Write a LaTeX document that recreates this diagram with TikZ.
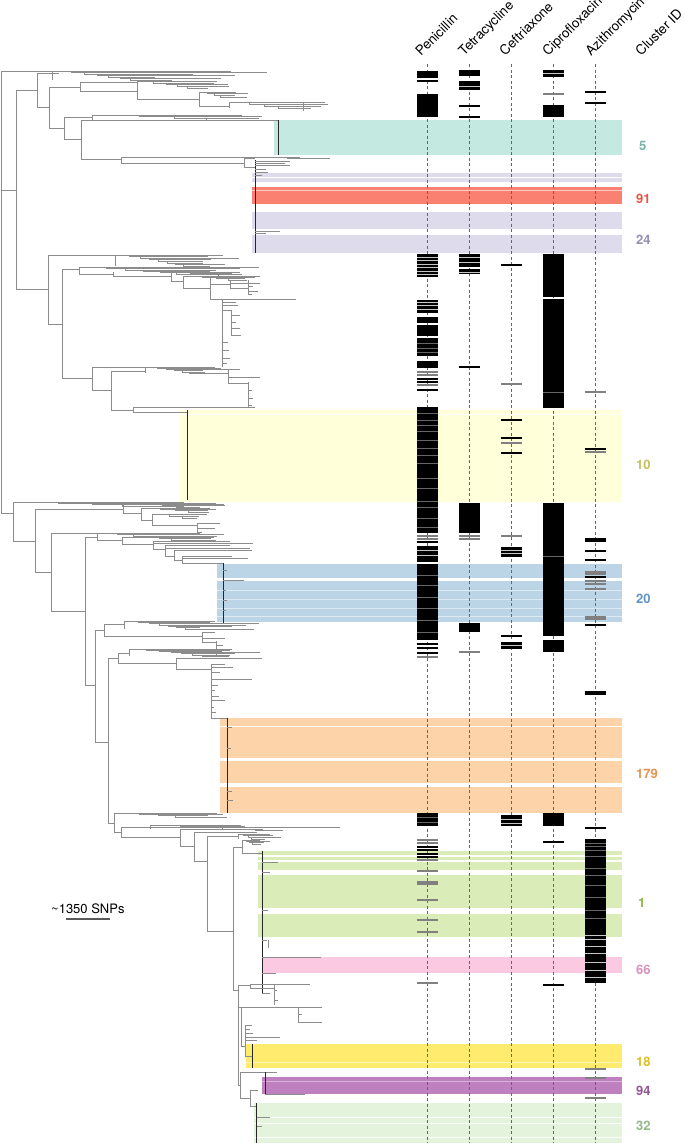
\documentclass[tikz,border=0pt]{standalone}
\usepackage{fontspec}
\setmainfont{TeX Gyre Heros}
\usepackage{xcolor}
\usepackage{tikz}
\usetikzlibrary{positioning}
% band colours
\definecolor{bTeal}{RGB}{196,233,225}
\definecolor{bLav}{RGB}{222,219,236}
\definecolor{bRed}{RGB}{250,128,114}
\definecolor{bPaleY}{RGB}{255,255,217}
\definecolor{bBlue}{RGB}{188,213,230}
\definecolor{bOrange}{RGB}{253,212,170}
\definecolor{bGreen}{RGB}{218,236,184}
\definecolor{bPink}{RGB}{252,201,227}
\definecolor{bYellow}{RGB}{255,236,110}
\definecolor{bPurple}{RGB}{190,128,190}
\definecolor{bLGreen}{RGB}{228,244,220}
% label colours
\definecolor{tTeal}{RGB}{118,178,168}
\definecolor{tRed}{RGB}{228,88,74}
\definecolor{tLav}{RGB}{148,143,180}
\definecolor{tPaleY}{RGB}{198,192,96}
\definecolor{tBlue}{RGB}{98,148,194}
\definecolor{tOrange}{RGB}{228,148,78}
\definecolor{tGreen}{RGB}{138,184,68}
\definecolor{tPink}{RGB}{214,148,190}
\definecolor{tYellow}{RGB}{222,192,36}
\definecolor{tPurple}{RGB}{148,88,148}
\definecolor{tLGreen}{RGB}{148,184,138}

\tikzset{
  treeline/.style={draw=black!45, line width=0.45pt},
  stemline/.style={draw=black!85, line width=0.7pt},
  coldash/.style={draw=black!60, line width=0.6pt, dash pattern=on 3pt off 2.5pt},
  resline/.style={draw=black, line width=1.3pt},
  resgray/.style={draw=black!50, line width=1.1pt},
  resgap/.style={draw=white!55!gray, line width=0.6pt},
  ressub/.style={draw=black!60, line width=0.4pt},
  drug/.style={rotate=45, anchor=base west, inner sep=0pt, font=\fontsize{13.5}{16}\selectfont},
  cid/.style={anchor=west, inner sep=0pt, font=\fontsize{13}{15}\selectfont\bfseries},
}
% resistance marks (column x, y)
\newcommand{\rbar}[3]{\fill[black] ({#1-10.5},#2) rectangle ({#1+10.5},#3);}
\newcommand{\rline}[2]{\draw[resline] ({#1-10.5},#2) -- ({#1+10.5},#2);}
\newcommand{\rgray}[2]{\draw[resgray] ({#1-10.5},#2) -- ({#1+10.5},#2);}
\newcommand{\rgap}[2]{\draw[resgap] ({#1-10.5},#2) -- ({#1+10.5},#2);}
\newcommand{\rsub}[2]{\draw[ressub] ({#1-10.5},#2) -- ({#1+10.5},#2);}
% cluster band
\newcommand{\clband}[4]{\fill[#1] (#2,#3) rectangle (622,#4);}
% dense tips, nested ladder: x0, y0, y1, xmin, xmax, n
\newcommand{\tipbush}[6]{%
  \draw[treeline] (#1,#2) -- (#1,#3);
  \foreach \i in {0,...,#6}{
    \pgfmathsetmacro{\yy}{#2+(#3-#2)*\i/#6}
    \pgfmathsetmacro{\yp}{#2+(#3-#2)*(\i-1)/#6}
    \pgfmathsetmacro{\xs}{#1+(#4-#1)*0.8*(\i/#6)^0.8}
    \pgfmathsetmacro{\xe}{#4+rnd*(#5-#4)}
    \ifnum\i=0
      \draw[treeline] (#1,\yy) -- (\xe,\yy);
    \else
      \draw[treeline] (\xs,\yp) -- (\xs,\yy) -- (\xe,\yy);
    \fi
  }
}

\begin{document}
\begin{tikzpicture}[x=1pt, y=-1pt]
    \useasboundingbox (0,0) rectangle (685,1143);
    \pgfmathsetseed{11}
    \def\pen{427}
    \def\tet{469}
    \def\cef{511}
    \def\cip{553}
    \def\azi{595}
    % Cluster bands
    \clband{bTeal}{274}{120}{155}
    \clband{bLav}{252}{173}{177}
    \clband{bLav}{252}{178}{182}
    \clband{bRed}{252}{187}{204}
    \draw[white!60!bRed, line width=0.8pt] (252,190) -- (622,190);
    \clband{bLav}{252}{212}{229}
    \clband{bLav}{252}{235}{253}
    \clband{bPaleY}{180}{410}{502}
    \draw[white, line width=1pt] (180,414) -- (622,414);
    \clband{bBlue}{217}{564}{578}
    \clband{bBlue}{217}{581}{622}
    \foreach \y in {590,599,608,616} {\draw[white!50!bBlue, line width=0.6pt] (217,\y) -- (622,\y);}
    \clband{bOrange}{220}{718}{758}
    \draw[white, line width=0.8pt] (220,726) -- (622,726);
    \clband{bOrange}{220}{761}{783}
    \clband{bOrange}{220}{787}{813}
    \clband{bGreen}{258}{851}{855}
    \clband{bGreen}{258}{857}{860}
    \clband{bGreen}{258}{862}{870}
    \clband{bGreen}{258}{875}{908}
    \clband{bGreen}{258}{914}{937}
    \clband{bPink}{262}{957}{973}
    \clband{bYellow}{246}{1044}{1068}
    \draw[white!50!bYellow, line width=0.6pt] (246,1062) -- (622,1062);
    \clband{bPurple}{262}{1077}{1094}
    \draw[white!40!bPurple, line width=0.6pt] (262,1081) -- (622,1081);
    \clband{bLGreen}{254}{1103}{1143}
    \foreach \y in {1117,1123,1137} {\draw[white, line width=0.6pt] (254,\y) -- (622,\y);}

    % Tree: root
    \draw[treeline] (1,71) -- (1,513) (1,190) -- (16,190) (1,513) -- (13,513);
    % top clade
    \draw[treeline] (1,71) -- (52,71);
    \tipbush{52}{71}{80}{150}{273}{6}
    \draw[treeline] (16,90) -- (16,289) (16,90) -- (37,90) (37,73) -- (37,107) (37,73) -- (59,73) (37,107) -- (49,107) (49,87) -- (49,128) (49,87) -- (80,87);
    \draw[treeline] (80,82) -- (80,91) (80,82) -- (137,82) (80,91) -- (137,91) (137,84) -- (137,99) (137,99) -- (199,99) (199,92) -- (199,106) (199,106) -- (229,106) (303,103) -- (303,111);
    \tipbush{137}{81}{88}{200}{245}{4}
    \tipbush{199}{92}{97}{225}{258}{3}
    \tipbush{229}{102}{108}{290}{332}{3}
    \draw[treeline] (49,128) -- (64,128) (64,117) -- (64,139) (64,117) -- (92,117) (64,139) -- (81,139) (81,120) -- (81,159);
    \tipbush{92}{115}{120}{235}{272}{3}
    % clade 5
    \draw[treeline] (81,120) -- (278,120);
    \draw[stemline] (278,120) -- (278,155);
    \draw[treeline] (81,159) -- (121,159) (121,157) -- (121,163) (121,157) -- (300,157) (287,158) -- (330,158) (121,163) -- (244,163) (244,158) -- (244,167) (244,158) -- (255,158) (244,167) -- (255,167);
    % clades 91 and 24
    \draw[stemline] (255,160) -- (255,253);
    \draw[treeline] (255,161) -- (290,161) (255,163) -- (285,163) (255,165) -- (290,165) (255,169) -- (266,169) (255,172) -- (268,172) (255,175) -- (262,175) (255,231) -- (280,231) (255,233) -- (266,233);

    % second clade
    \draw[treeline] (16,289) -- (48,289) (48,255) -- (48,324) (48,255) -- (115,255) (48,324) -- (62,324) (62,269) -- (62,378) (62,269) -- (79,269);
    \tipbush{115}{255}{266}{200}{242}{7}
    \tipbush{79}{267}{274}{200}{273}{5}
    \draw[treeline] (79,274) -- (113,274) (113,272) -- (113,276) (113,276) -- (171,276) (171,274) -- (171,281) (171,281) -- (183,281) (183,277) -- (183,288) (183,288) -- (210,288) (210,276) -- (210,299) (210,284) -- (230,284) (230,280) -- (230,288) (230,288) -- (248,288) (248,280) -- (248,294) (210,299) -- (222,299);
    \tipbush{171}{272}{276}{230}{262}{3}
    \tipbush{183}{276}{280}{240}{272}{3}
    \draw[treeline] (230,280) -- (247,280) (230,283) -- (260,283) (248,286) -- (253,286) (248,291) -- (258,291) (248,294) -- (252,294);
    \draw[treeline] (222,299) -- (222,367) (222,299) -- (296,299) (222,302) -- (236,302) (222,305) -- (238,305) (222,310) -- (231,310) (231,310) -- (231,335) (231,315) -- (240,315) (231,322) -- (236,322) (231,328) -- (240,328) (231,335) -- (241,335) (222,342) -- (228,342) (222,350) -- (229,350) (222,358) -- (230,358) (222,363) -- (227,363);
    \draw[treeline] (62,378) -- (92,378) (92,367) -- (92,390) (92,367) -- (145,367) (92,390) -- (111,390) (111,371) -- (111,410) (111,371) -- (145,371);
    \tipbush{145}{367}{373}{200}{245}{5}
    \draw[treeline] (192,373) -- (228,373) (228,369) -- (228,383) (228,377) -- (260,377) (228,383) -- (248,383) (248,382) -- (248,407) (248,390) -- (252,390) (248,398) -- (253,398) (248,405) -- (252,405);
    \draw[treeline] (111,410) -- (133,410) (133,407) -- (133,412) (133,407) -- (255,407) (133,412) -- (187,412);
    % clade 10
    \draw[stemline] (187,410) -- (187,500);

    % bottom half
    \draw[treeline] (13,503) -- (13,541) (13,541) -- (35,541) (35,509) -- (35,572) (35,509) -- (123,509) (123,506) -- (123,513) (123,513) -- (141,513) (141,508) -- (141,520) (141,520) -- (152,520) (152,514) -- (152,525) (152,525) -- (197,525) (197,523) -- (197,532) (197,523) -- (220,523) (197,528) -- (215,528) (197,532) -- (202,532);
    \tipbush{13}{502}{506}{150}{200}{3}
    \tipbush{123}{503}{507}{190}{233}{3}
    \tipbush{141}{508}{512}{200}{234}{3}
    \tipbush{152}{514}{518}{190}{220}{2}
    \draw[treeline] (35,572) -- (51,572) (51,533) -- (51,611) (51,533) -- (97,533) (51,611) -- (85,611) (85,537) -- (85,685) (85,537) -- (97,537);
    \tipbush{97}{533}{540}{190}{233}{5}
    \draw[treeline] (97,540) -- (122,540) (122,537) -- (122,544) (122,544) -- (153,544) (153,541) -- (153,549) (153,549) -- (165,549) (165,545) -- (165,556) (165,556) -- (174,556) (174,550) -- (174,560) (174,560) -- (182,560) (182,556) -- (182,563) (182,563) -- (223,563);
    \draw[treeline] (122,537) -- (214,537) (153,541) -- (230,541) (153,543) -- (253,543) (165,545) -- (230,545) (165,548) -- (250,548) (174,550) -- (252,550) (182,556) -- (232,556) (182,558) -- (248,558);
    % clade 20
    \draw[stemline] (223,563) -- (223,624);
    \draw[treeline] (223,580) -- (244,580) (223,570) -- (227,570) (223,590) -- (226,590) (223,600) -- (227,600) (223,610) -- (226,610);
    \draw[treeline] (85,685) -- (95,685) (95,630) -- (95,742) (95,630) -- (104,630) (104,624) -- (104,636) (104,624) -- (124,624) (104,636) -- (202,636) (202,632) -- (202,642);
    \tipbush{124}{621}{629}{200}{265}{6}
    \draw[treeline] (202,632) -- (215,632) (202,638) -- (225,638) (202,642) -- (216,642) (216,641) -- (216,655) (216,645) -- (223,645) (216,650) -- (222,650) (216,655) -- (220,655);
    \draw[treeline] (95,742) -- (108,742) (108,658) -- (108,823) (108,658) -- (118,658) (118,653) -- (118,663) (118,653) -- (129,653) (118,663) -- (176,663) (176,658) -- (176,669) (176,658) -- (262,658) (176,669) -- (211,669);
    \tipbush{129}{649}{656}{220}{270}{6}
    \draw[treeline] (211,664) -- (211,718) (211,664) -- (225,664) (211,667) -- (233,667) (211,672) -- (220,672) (211,679) -- (252,679) (211,685) -- (218,685) (211,690) -- (215,690) (211,696) -- (219,696) (211,700) -- (225,700) (211,707) -- (214,707) (211,712) -- (216,712) (211,718) -- (227,718);
    % clade 179
    \draw[stemline] (227,718) -- (227,813);
    \draw[treeline] (227,727) -- (232,727) (227,748) -- (231,748) (227,791) -- (232,791) (227,800) -- (233,800);
    \draw[treeline] (108,823) -- (114,823) (114,815) -- (114,832) (114,832) -- (121,832) (121,827) -- (121,837) (121,827) -- (340,827) (121,837) -- (180,837) (180,829) -- (180,846) (180,829) -- (263,829) (255,830) -- (283,830) (180,846) -- (194,846) (194,832) -- (194,861) (194,832) -- (257,832) (194,861) -- (207,861) (207,836) -- (207,931) (207,836) -- (238,836) (207,931) -- (233,931);
    \tipbush{114}{813}{817}{190}{233}{3}
    \tipbush{150}{825}{829}{240}{265}{3}
    \tipbush{238}{834}{839}{255}{287}{3}
    \draw[treeline] (233,847) -- (233,990) (233,847) -- (242,847) (242,840) -- (242,853) (242,853) -- (262,853);
    \tipbush{242}{840}{844}{255}{287}{3}
    % clades 1 and 66
    \draw[stemline] (262,851) -- (262,993);
    \draw[treeline] (262,862) -- (278,862) (262,872) -- (270,872) (262,910) -- (268,910) (262,940) -- (267,940) (268,940) -- (268,948) (262,957) -- (321,957) (262,973) -- (276,973) (262,993) -- (270,993);
    \draw[treeline] (233,990) -- (238,990) (238,985) -- (238,1085) (238,985) -- (250,985) (250,984) -- (250,988) (250,984) -- (310,984) (250,988) -- (274,988) (274,985) -- (274,1005) (274,990) -- (277,990) (274,1000) -- (278,1000) (238,1007) -- (241,1007) (241,1007) -- (241,1046) (241,1007) -- (298,1007) (298,1007) -- (298,1022) (298,1007) -- (322,1007) (298,1014) -- (302,1014) (298,1022) -- (322,1022) (241,1046) -- (245,1046) (245,1025) -- (245,1056) (245,1025) -- (252,1025) (245,1029) -- (250,1029) (245,1033) -- (253,1033) (245,1037) -- (280,1037) (245,1040) -- (257,1040) (245,1056) -- (252,1056);
    % clade 18
    \draw[stemline] (252,1044) -- (252,1068);
    % clades 94 and 32
    \draw[treeline] (238,1085) -- (240,1085) (240,1072) -- (240,1098) (240,1072) -- (265,1072) (265,1072) -- (277,1072) (265,1094) -- (305,1094) (240,1098) -- (250,1098) (250,1090) -- (250,1106) (250,1090) -- (258,1090) (250,1106) -- (256,1106) (256,1117) -- (270,1117) (256,1126) -- (262,1126);
    \draw[stemline] (265,1072) -- (265,1094) (256,1103) -- (256,1143);

    % Column guides
    \foreach \cx in {\pen,\tet,\cef,\cip,\azi} {\draw[coldash] (\cx,64) -- (\cx,1143);}

    % Penicillin
    \rbar{\pen}{71}{78} \rline{\pen}{81}
    \rbar{\pen}{94}{117}
    \rbar{\pen}{254}{277} \foreach \y in {257,260,264,267,271,274} {\rgap{\pen}{\y}}
    \rbar{\pen}{300}{313} \foreach \y in {302,305,309} {\rgap{\pen}{\y}}
    \rbar{\pen}{317}{323} \rbar{\pen}{325}{336} \rbar{\pen}{338}{356} \foreach \y in {343,348,352} {\rsub{\pen}{\y}}
    \rbar{\pen}{361}{368} \rgray{\pen}{372} \rgray{\pen}{375} \rline{\pen}{379} \rline{\pen}{382} \rgray{\pen}{385} \rline{\pen}{390}
    \rbar{\pen}{407}{533} \foreach \y in {413,420,425,431,440,448,455,463,478,488,501,507,518,527} {\rsub{\pen}{\y}}
    \rgray{\pen}{536} \rgray{\pen}{539} \rline{\pen}{542}
    \rbar{\pen}{546}{562} \foreach \y in {550,555} {\rgap{\pen}{\y}}
    \rbar{\pen}{564}{640} \foreach \y in {575,585,597,608,620,632} {\rsub{\pen}{\y}}
    \rline{\pen}{644} \rline{\pen}{648} \rline{\pen}{653} \rgray{\pen}{657}
    \rbar{\pen}{813}{826} \foreach \y in {817,822} {\rsub{\pen}{\y}}
    \rgray{\pen}{840} \rgray{\pen}{843} \rline{\pen}{847} \rline{\pen}{850} \rline{\pen}{854} \rline{\pen}{857} \rgray{\pen}{860}
    \rgray{\pen}{871} \rgray{\pen}{882} \rgray{\pen}{884} \rgray{\pen}{900} \rgray{\pen}{920} \rgray{\pen}{932} \rgray{\pen}{983}
    % Tetracycline
    \rbar{\tet}{70}{76} \rbar{\tet}{81}{90} \rgap{\tet}{86} \rline{\tet}{106} \rline{\tet}{117}
    \rbar{\tet}{254}{267} \rgap{\tet}{257} \rgap{\tet}{262} \rbar{\tet}{269}{274} \rgap{\tet}{272}
    \rline{\tet}{367}
    \rbar{\tet}{503}{533} \rgray{\tet}{536} \rgray{\tet}{539}
    \rbar{\tet}{623}{632} \rgray{\tet}{652}
    % Ceftriaxone
    \rline{\cef}{265} \rgray{\cef}{384} \rline{\cef}{420} \rline{\cef}{438} \rgray{\cef}{443} \rline{\cef}{453}
    \rgray{\cef}{536} \rbar{\cef}{547}{557} \rgap{\cef}{550} \rgap{\cef}{553}
    \rline{\cef}{636} \rbar{\cef}{642}{649} \rgap{\cef}{645}
    \rbar{\cef}{815}{826} \rgap{\cef}{819} \rgap{\cef}{823}
    % Ciprofloxacin
    \rbar{\cip}{70}{77} \rgap{\cip}{73} \rgray{\cip}{94} \rbar{\cip}{105}{117}
    \rbar{\cip}{254}{297} \rbar{\cip}{299}{408} \rsub{\cip}{392}
    \rbar{\cip}{503}{636} \rsub{\cip}{556} \rbar{\cip}{640}{652}
    \rbar{\cip}{813}{826} \rline{\cip}{842}
    \rline{\cip}{985}
    % Azithromycin
    \rline{\azi}{92} \rline{\azi}{103}
    \rgray{\azi}{392} \rline{\azi}{449} \rgray{\azi}{452}
    \foreach \y in {539,541,551,560,577,625} {\rline{\azi}{\y}}
    \foreach \y in {572,574,581,584,589,617,619} {\rgray{\azi}{\y}}
    \rline{\azi}{692} \rline{\azi}{694}
    \rline{\azi}{828}
    \rbar{\azi}{839}{983} \foreach \y in {843,846,850,856,868,875,885,897,910,918} {\rsub{\azi}{\y}}
    \foreach \y in {935,939,946,953,962,970,977} {\rgap{\azi}{\y}}
    \rgray{\azi}{1069} \rgray{\azi}{1078} \rgray{\azi}{1098}

    % Column headers
    \node[drug] (hPen) at (421,57) {Penicillin};
    \node[drug] (hTet) at (464,57) {Tetracycline};
    \node[drug] (hCef) at (505,57) {Ceftriaxone};
    \node[drug] (hCip) at (548,57) {Ciprofloxacin};
    \node[drug] (hAzi) at (591,57) {Azithromycin};
    \node[drug] (hCid) at (641,57) {Cluster ID};

    % Cluster IDs
    \node[cid, text=tTeal] (c5) at (639,146) {5};
    \node[cid, text=tRed] (c91) at (636,199) {91};
    \node[cid, text=tLav] (c24) at (636,240) {24};
    \node[cid, text=tPaleY] (c10) at (636,465) {10};
    \node[cid, text=tBlue] (c20) at (636,599) {20};
    \node[cid, text=tOrange] (c179) at (636,774) {179};
    \node[cid, text=tGreen] (c1) at (638,903) {1};
    \node[cid, text=tPink] (c66) at (636,970) {66};
    \node[cid, text=tYellow] (c18) at (636,1062) {18};
    \node[cid, text=tPurple] (c94) at (636,1091) {94};
    \node[cid, text=tLGreen] (c32) at (636,1126) {32};

    % Scale bar
    \node[anchor=base west, inner sep=0pt, font=\fontsize{13}{15}\selectfont] (snps) at (51,913) {\textasciitilde1350 SNPs};
    \draw[black!65, line width=1.2pt] (66,919) -- (110,919);
\end{tikzpicture}
\end{document}
